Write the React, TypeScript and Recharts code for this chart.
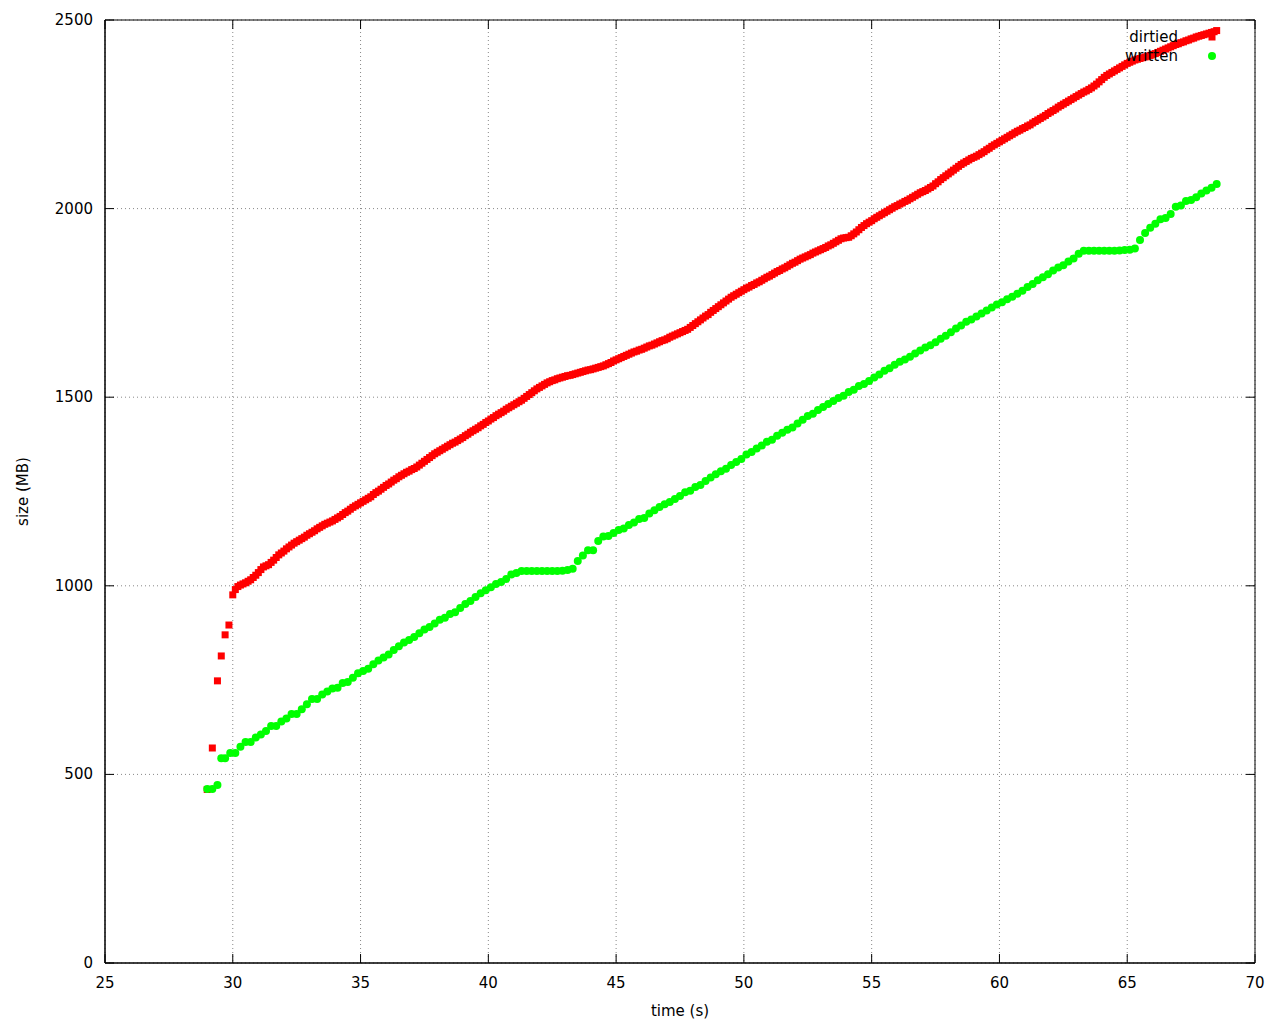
import React from 'react';
import { ScatterChart, Scatter, XAxis, YAxis, CartesianGrid, ReferenceArea } from 'recharts';

const xTicks = [25, 30, 35, 40, 45, 50, 55, 60, 65, 70];
const yTicks = [0, 500, 1000, 1500, 2000, 2500];

const dirtiedTime = [
  29.0, 29.2, 29.4, 29.55, 29.7, 29.85,
  30.0, 30.1, 30.2, 30.3, 30.4, 30.5, 30.6, 30.7, 30.8, 30.9,
  31.0, 31.1, 31.2, 31.3, 31.4, 31.5, 31.6, 31.7, 31.8, 31.9,
  32.0, 32.1, 32.2, 32.3, 32.4, 32.5, 32.6, 32.7, 32.8, 32.9,
  33.0, 33.1, 33.2, 33.3, 33.4, 33.5, 33.6, 33.7, 33.8, 33.9,
  34.0, 34.1, 34.2, 34.3, 34.4, 34.5, 34.6, 34.7, 34.8, 34.9,
  35.0, 35.1, 35.2, 35.3, 35.4, 35.5, 35.6, 35.7, 35.8, 35.9,
  36.0, 36.1, 36.2, 36.3, 36.4, 36.5, 36.6, 36.7, 36.8, 36.9,
  37.0, 37.1, 37.2, 37.3, 37.4, 37.5, 37.6, 37.7, 37.8, 37.9,
  38.0, 38.1, 38.2, 38.3, 38.4, 38.5, 38.6, 38.7, 38.8, 38.9,
  39.0, 39.1, 39.2, 39.3, 39.4, 39.5, 39.6, 39.7, 39.8, 39.9,
  40.0, 40.1, 40.2, 40.3, 40.4, 40.5, 40.6, 40.7, 40.8, 40.9,
  41.0, 41.1, 41.2, 41.3, 41.4, 41.5, 41.6, 41.7, 41.8, 41.9,
  42.0, 42.1, 42.2, 42.3, 42.4, 42.5, 42.6, 42.7, 42.8, 42.9,
  43.0, 43.1, 43.2, 43.3, 43.4, 43.5, 43.6, 43.7, 43.8, 43.9,
  44.0, 44.1, 44.2, 44.3, 44.4, 44.5, 44.6, 44.7, 44.8, 44.9,
  45.0, 45.1, 45.2, 45.3, 45.4, 45.5, 45.6, 45.7, 45.8, 45.9,
  46.0, 46.1, 46.2, 46.3, 46.4, 46.5, 46.6, 46.7, 46.8, 46.9,
  47.0, 47.1, 47.2, 47.3, 47.4, 47.5, 47.6, 47.7, 47.8, 47.9,
  48.0, 48.1, 48.2, 48.3, 48.4, 48.5, 48.6, 48.7, 48.8, 48.9,
  49.0, 49.1, 49.2, 49.3, 49.4, 49.5, 49.6, 49.7, 49.8, 49.9,
  50.0, 50.1, 50.2, 50.3, 50.4, 50.5, 50.6, 50.7, 50.8, 50.9,
  51.0, 51.1, 51.2, 51.3, 51.4, 51.5, 51.6, 51.7, 51.8, 51.9,
  52.0, 52.1, 52.2, 52.3, 52.4, 52.5, 52.6, 52.7, 52.8, 52.9,
  53.0, 53.1, 53.2, 53.3, 53.4, 53.5, 53.6, 53.7, 53.8, 53.9,
  54.0, 54.1, 54.2, 54.3, 54.4, 54.5, 54.6, 54.7, 54.8, 54.9,
  55.0, 55.1, 55.2, 55.3, 55.4, 55.5, 55.6, 55.7, 55.8, 55.9,
  56.0, 56.1, 56.2, 56.3, 56.4, 56.5, 56.6, 56.7, 56.8, 56.9,
  57.0, 57.1, 57.2, 57.3, 57.4, 57.5, 57.6, 57.7, 57.8, 57.9,
  58.0, 58.1, 58.2, 58.3, 58.4, 58.5, 58.6, 58.7, 58.8, 58.9,
  59.0, 59.1, 59.2, 59.3, 59.4, 59.5, 59.6, 59.7, 59.8, 59.9,
  60.0, 60.1, 60.2, 60.3, 60.4, 60.5, 60.6, 60.7, 60.8, 60.9,
  61.0, 61.1, 61.2, 61.3, 61.4, 61.5, 61.6, 61.7, 61.8, 61.9,
  62.0, 62.1, 62.2, 62.3, 62.4, 62.5, 62.6, 62.7, 62.8, 62.9,
  63.0, 63.1, 63.2, 63.3, 63.4, 63.5, 63.6, 63.7, 63.8, 63.9,
  64.0, 64.1, 64.2, 64.3, 64.4, 64.5, 64.6, 64.7, 64.8, 64.9,
  65.0, 65.1, 65.2, 65.3, 65.4, 65.5, 65.6, 65.7, 65.8, 65.9,
  66.0, 66.1, 66.2, 66.3, 66.4, 66.5, 66.6, 66.7, 66.8, 66.9,
  67.0, 67.1, 67.2, 67.3, 67.4, 67.5, 67.6, 67.7, 67.8, 67.9,
  68.0, 68.1, 68.2, 68.3, 68.4, 68.5,
];
const dirtiedSize = [
  460, 570, 748, 814, 870, 896,
  976, 990, 998, 1002, 1005, 1008, 1012, 1016, 1022, 1028,
  1035, 1043, 1050, 1053, 1056, 1062, 1068, 1075, 1082, 1087,
  1092, 1098, 1103, 1108, 1113, 1117, 1121, 1125, 1129, 1134,
  1138, 1142, 1146, 1151, 1155, 1159, 1163, 1166, 1169, 1172,
  1176, 1180, 1184, 1189, 1194, 1198, 1203, 1208, 1212, 1216,
  1220, 1224, 1228, 1232, 1236, 1242, 1247, 1251, 1256, 1261,
  1266, 1270, 1275, 1280, 1284, 1289, 1293, 1297, 1301, 1304,
  1308, 1311, 1315, 1320, 1325, 1330, 1335, 1340, 1345, 1350,
  1354, 1358, 1362, 1366, 1370, 1374, 1378, 1381, 1385, 1389,
  1393, 1398, 1402, 1407, 1411, 1415, 1419, 1424, 1428, 1433,
  1437, 1442, 1446, 1451, 1455, 1459, 1463, 1468, 1472, 1476,
  1480, 1484, 1488, 1492, 1497, 1502, 1507, 1512, 1517, 1522,
  1526, 1530, 1534, 1538, 1541, 1544, 1546, 1549, 1551, 1553,
  1555, 1557, 1558, 1560, 1562, 1564, 1566, 1568, 1570, 1572,
  1573, 1575, 1577, 1579, 1581, 1583, 1586, 1589, 1592, 1596,
  1599, 1602, 1605, 1608, 1611, 1614, 1617, 1620, 1622, 1625,
  1627, 1630, 1633, 1636, 1638, 1641, 1644, 1647, 1650, 1652,
  1655, 1659, 1662, 1665, 1668, 1671, 1674, 1677, 1680, 1685,
  1690, 1695, 1700, 1705, 1710, 1715, 1719, 1725, 1730, 1735,
  1740, 1745, 1750, 1755, 1760, 1765, 1769, 1773, 1777, 1781,
  1785, 1789, 1792, 1796, 1799, 1803, 1806, 1810, 1814, 1818,
  1821, 1825, 1829, 1833, 1836, 1840, 1843, 1847, 1851, 1855,
  1858, 1862, 1866, 1869, 1872, 1875, 1878, 1882, 1885, 1888,
  1891, 1894, 1897, 1901, 1904, 1908, 1912, 1916, 1920, 1922,
  1923, 1924, 1928, 1933, 1938, 1944, 1950, 1955, 1960, 1964,
  1968, 1973, 1977, 1981, 1985, 1989, 1993, 1997, 2001, 2005,
  2008, 2012, 2015, 2019, 2022, 2026, 2030, 2034, 2038, 2042,
  2045, 2048, 2052, 2056, 2060, 2066, 2071, 2077, 2082, 2087,
  2092, 2097, 2102, 2107, 2112, 2117, 2121, 2125, 2129, 2133,
  2136, 2139, 2143, 2147, 2151, 2156, 2160, 2165, 2169, 2173,
  2177, 2181, 2185, 2189, 2193, 2197, 2201, 2205, 2208, 2212,
  2215, 2219, 2222, 2227, 2231, 2235, 2239, 2243, 2247, 2252,
  2256, 2260, 2264, 2269, 2273, 2277, 2281, 2285, 2289, 2293,
  2297, 2301, 2305, 2309, 2312, 2316, 2320, 2325, 2330, 2336,
  2342, 2348, 2353, 2357, 2361, 2365, 2369, 2373, 2377, 2381,
  2385, 2388, 2391, 2394, 2396, 2398, 2400, 2402, 2404, 2406,
  2409, 2411, 2414, 2417, 2420, 2423, 2426, 2429, 2432, 2435,
  2437, 2440, 2442, 2445, 2447, 2450, 2452, 2455, 2457, 2459,
  2461, 2463, 2465, 2467, 2469, 2472,
];

const writtenTime = [
  29.0, 29.2, 29.4, 29.55, 29.7, 29.9, 30.1, 30.3, 30.5, 30.7, 30.9,
  31.1, 31.3, 31.5, 31.7, 31.9, 32.1, 32.3, 32.5, 32.7, 32.9, 33.1, 33.3, 33.5, 33.7, 33.9,
  34.1, 34.3, 34.5, 34.7, 34.9, 35.1, 35.3, 35.5, 35.7, 35.9, 36.1, 36.3, 36.5, 36.7, 36.9,
  37.1, 37.3, 37.5, 37.7, 37.9, 38.1, 38.3, 38.5, 38.7, 38.9, 39.1, 39.3, 39.5, 39.7, 39.9,
  40.1, 40.3, 40.5, 40.7, 40.9, 41.1, 41.3, 41.5, 41.7, 41.9, 42.1, 42.3, 42.5, 42.7, 42.9,
  43.1, 43.3, 43.5, 43.7, 43.9, 44.1, 44.3, 44.5, 44.7, 44.9, 45.1, 45.3, 45.5, 45.7, 45.9,
  46.1, 46.3, 46.5, 46.7, 46.9, 47.1, 47.3, 47.5, 47.7, 47.9, 48.1, 48.3, 48.5, 48.7, 48.9,
  49.1, 49.3, 49.5, 49.7, 49.9, 50.1, 50.3, 50.5, 50.7, 50.9, 51.1, 51.3, 51.5, 51.7, 51.9,
  52.1, 52.3, 52.5, 52.7, 52.9, 53.1, 53.3, 53.5, 53.7, 53.9, 54.1, 54.3, 54.5, 54.7, 54.9,
  55.1, 55.3, 55.5, 55.7, 55.9, 56.1, 56.3, 56.5, 56.7, 56.9, 57.1, 57.3, 57.5, 57.7, 57.9,
  58.1, 58.3, 58.5, 58.7, 58.9, 59.1, 59.3, 59.5, 59.7, 59.9, 60.1, 60.3, 60.5, 60.7, 60.9,
  61.1, 61.3, 61.5, 61.7, 61.9, 62.1, 62.3, 62.5, 62.7, 62.9, 63.1, 63.3, 63.5, 63.7, 63.9,
  64.1, 64.3, 64.5, 64.7, 64.9, 65.1, 65.3, 65.5, 65.7, 65.9, 66.1, 66.3, 66.5, 66.7, 66.9,
  67.1, 67.3, 67.5, 67.7, 67.9, 68.1, 68.3, 68.5,
];
const writtenSize = [
  461, 461, 472, 543, 543, 557, 557, 573, 586, 586, 598,
  606, 615, 628, 628, 640, 648, 660, 660, 673, 686, 700, 700, 712, 720, 728,
  730, 742, 745, 756, 768, 774, 780, 792, 802, 810, 818, 830, 840, 850, 856,
  864, 874, 884, 891, 900, 910, 915, 925, 930, 941, 952, 960, 970, 980, 988,
  996, 1005, 1010, 1018, 1030, 1034, 1039, 1039, 1039, 1039, 1039, 1039, 1039, 1039, 1040,
  1042, 1045, 1066, 1080, 1094, 1094, 1119, 1131, 1132, 1140, 1148, 1152, 1161, 1168, 1177,
  1180, 1192, 1200, 1209, 1216, 1222, 1230, 1238, 1248, 1252, 1262, 1267, 1278, 1287, 1296,
  1304, 1310, 1320, 1328, 1336, 1348, 1355, 1364, 1372, 1382, 1387, 1398, 1406, 1414, 1420,
  1430, 1440, 1450, 1456, 1466, 1474, 1482, 1490, 1498, 1504, 1514, 1520, 1530, 1535, 1543,
  1552, 1560, 1570, 1577, 1586, 1594, 1600, 1607, 1616, 1624, 1632, 1638, 1646, 1655, 1663,
  1672, 1682, 1690, 1700, 1706, 1714, 1722, 1730, 1738, 1746, 1752, 1760, 1766, 1774, 1782,
  1792, 1800, 1810, 1818, 1826, 1836, 1844, 1850, 1860, 1868, 1880, 1888, 1888, 1888, 1888,
  1888, 1888, 1888, 1889, 1890, 1891, 1894, 1917, 1935, 1949, 1960, 1972, 1975, 1986, 2005,
  2008, 2020, 2023, 2030, 2040, 2048, 2055, 2065,
];

const dirtiedData = dirtiedTime.map((t, i) => ({ t, v: dirtiedSize[i] }));
const writtenData = writtenTime.map((t, i) => ({ t, v: writtenSize[i] }));

const W = 1264;
const H = 1012;
const PLOT_LEFT = 97;
const PLOT_RIGHT = 1247;
const PLOT_TOP = 12;
const PLOT_BOTTOM = 955;
const FONT = '"DejaVu Sans", sans-serif';
const FS = 15;
const TICK_LEN = 9;

const XTick = (props: any) => {
  const { x, payload } = props;
  return (
    <g>
      <line x1={x} x2={x} y1={PLOT_BOTTOM} y2={PLOT_BOTTOM - TICK_LEN} stroke="#000" />
      <line x1={x} x2={x} y1={PLOT_TOP} y2={PLOT_TOP + TICK_LEN} stroke="#000" />
      <text x={x} y={PLOT_BOTTOM + 25} textAnchor="middle" fontFamily={FONT} fontSize={FS} fill="#000">
        {payload.value}
      </text>
    </g>
  );
};

const YTick = (props: any) => {
  const { y, payload } = props;
  return (
    <g>
      <line x1={PLOT_LEFT} x2={PLOT_LEFT + TICK_LEN} y1={y} y2={y} stroke="#000" />
      <line x1={PLOT_RIGHT} x2={PLOT_RIGHT - TICK_LEN} y1={y} y2={y} stroke="#000" />
      <text x={PLOT_LEFT - 12} y={y + 5} textAnchor="end" fontFamily={FONT} fontSize={FS} fill="#000">
        {payload.value}
      </text>
    </g>
  );
};

const Square = (props: any) => {
  const { cx, cy } = props;
  if (cx == null || cy == null) return null;
  return <rect x={cx - 3.5} y={cy - 3.5} width={7} height={7} fill="#ff0000" />;
};

const Dot = (props: any) => {
  const { cx, cy } = props;
  if (cx == null || cy == null) return null;
  return <circle cx={cx} cy={cy} r={4} fill="#00ff00" />;
};

const legendItems = ['dirtied', 'written'];

const LegendOverlay = () => (
  <svg width={240} height={50} style={{ position: 'absolute', left: 1000, top: 17, overflow: 'visible', pointerEvents: 'none' }}>
    <text x={170} y={17} textAnchor="end" fontFamily={FONT} fontSize={FS} fill="#000">{legendItems[0]}</text>
    <rect x={200.5} y={8.5} width={7} height={7} fill="#ff0000" />
    <text x={170} y={36} textAnchor="end" fontFamily={FONT} fontSize={FS} fill="#000">{legendItems[1]}</text>
    <circle cx={204} cy={31} r={4} fill="#00ff00" />
  </svg>
);

export default function App() {
  return (
    <div style={{ width: W, height: H, position: 'relative' }}>
      <ScatterChart width={W} height={H} margin={{ top: PLOT_TOP, right: W - PLOT_RIGHT, bottom: 0, left: 0 }}>
        <CartesianGrid stroke="#888" strokeDasharray="1 3" />
        <XAxis
          type="number"
          dataKey="t"
          domain={[25, 70]}
          ticks={xTicks}
          allowDataOverflow
          height={H - PLOT_BOTTOM}
          tickLine={false}
          axisLine={{ stroke: '#000' }}
          tick={<XTick />}
          label={{
            content: () => (
              <text x={(PLOT_LEFT + PLOT_RIGHT) / 2} y={PLOT_BOTTOM + 53} textAnchor="middle" fontFamily={FONT} fontSize={FS} fill="#000">
                time (s)
              </text>
            ),
          }}
        />
        <YAxis
          type="number"
          dataKey="v"
          domain={[0, 2500]}
          ticks={yTicks}
          allowDataOverflow
          width={PLOT_LEFT}
          tickLine={false}
          axisLine={{ stroke: '#000' }}
          tick={<YTick />}
          label={{
            content: () => (
              <text x={20} y={(PLOT_TOP + PLOT_BOTTOM) / 2} textAnchor="middle" fontFamily={FONT} fontSize={FS} fill="#000" transform={`rotate(-90 20 ${(PLOT_TOP + PLOT_BOTTOM) / 2})`}>
                size (MB)
              </text>
            ),
          }}
        />
        <ReferenceArea x1={25} x2={70} y1={0} y2={2500} fill="none" fillOpacity={0} stroke="#000" strokeOpacity={1} />
        <Scatter name="dirtied" data={dirtiedData} shape={<Square />} isAnimationActive={false} />
        <Scatter name="written" data={writtenData} shape={<Dot />} isAnimationActive={false} />
      </ScatterChart>
      <LegendOverlay />
    </div>
  );
}
